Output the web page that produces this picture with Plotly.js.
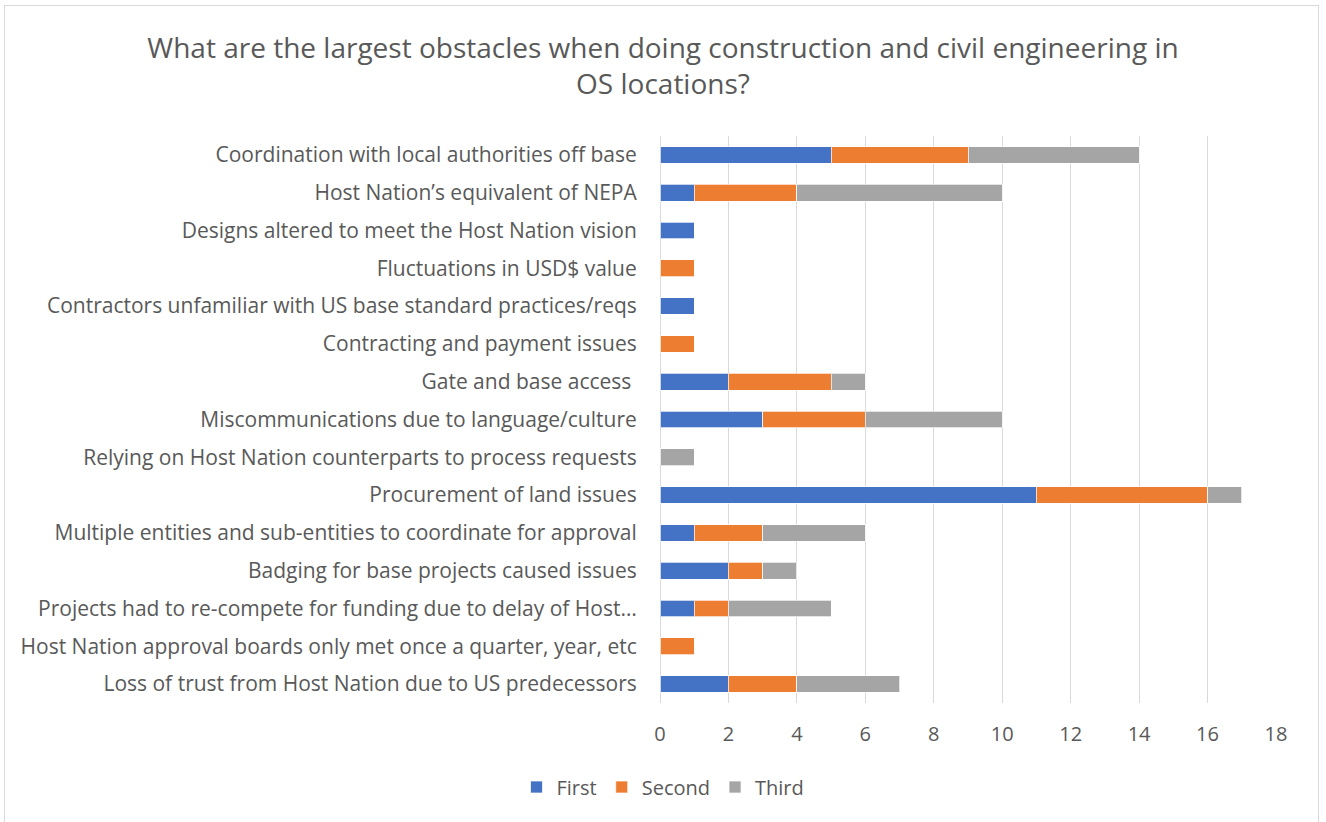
<!DOCTYPE html>
<html>
<head>
<meta charset="utf-8">
<script src="https://cdn.plot.ly/plotly-3.0.1.min.js"></script>
<style>
html,body{margin:0;padding:0;background:#fff;}
#wrap{position:relative;width:1326px;height:822px;}
#chart{width:1326px;height:822px;}
#frame{position:absolute;left:4px;top:5px;width:1313px;height:830px;border:1px solid #D9D9D9;pointer-events:none;}
</style>
</head>
<body>
<div id="wrap"><div id="chart"></div><div id="frame"></div></div>
<script>
const categories = [
  "Coordination with local authorities off base",
  "Host Nation\u2019s equivalent of NEPA",
  "Designs altered to meet the Host Nation vision",
  "Fluctuations in USD$ value",
  "Contractors unfamiliar with US base standard practices/reqs",
  "Contracting and payment issues",
  "Gate and base access ",
  "Miscommunications due to language/culture",
  "Relying on Host Nation counterparts to process requests",
  "Procurement of land issues",
  "Multiple entities and sub-entities to coordinate for approval",
  "Badging for base projects caused issues",
  "Projects had to re-compete for funding due to delay of Host\u2026",
  "Host Nation approval boards only met once a quarter, year, etc",
  "Loss of trust from Host Nation due to US predecessors"
];
const first  = [5, 1, 1, 0, 1, 0, 2, 3, 0, 11, 1, 2, 1, 0, 2];
const second = [4, 3, 0, 1, 0, 1, 3, 3, 0, 5, 2, 1, 1, 1, 2];
const third  = [5, 6, 0, 0, 0, 0, 1, 4, 1, 1, 3, 1, 3, 0, 3];
const xTicks = [0, 2, 4, 6, 8, 10, 12, 14, 16, 18];
const titleLine1 = "What are the largest obstacles when doing construction and civil engineering in";
const titleLine2 = "OS locations?";

const FONT = "Open Sans, sans-serif";
const TXT = "#595959";
const lineStyle = {color: "rgba(255,255,255,0.7)", width: 1};

const traces = [
  {name: "First", y: categories, x: first, type: "bar", orientation: "h", marker: {color: "#4472C4", line: lineStyle}},
  {name: "Second", y: categories, x: second, type: "bar", orientation: "h", marker: {color: "#ED7D31", line: lineStyle}},
  {name: "Third", y: categories, x: third, type: "bar", orientation: "h", marker: {color: "#A5A5A5", line: lineStyle}}
];

const layout = {
  width: 1326, height: 822,
  barmode: "stack",
  bargap: 0.56,
  paper_bgcolor: "#fff", plot_bgcolor: "#fff",
  font: {family: FONT, color: TXT, size: 20},
  margin: {l: 660, r: 50, t: 136, b: 119, pad: 0},
  title: {
    text: titleLine1 + "<br>" + titleLine2,
    font: {family: FONT, size: 28, color: TXT},
    x: 0.5, xref: "container", xanchor: "center",
    y: 1 - 58/822, yref: "container", yanchor: "top"
  },
  xaxis: {
    range: [0, 18], tickvals: xTicks, ticktext: xTicks.map(String),
    showgrid: true, gridcolor: "#D9D9D9", gridwidth: 1.3,
    zeroline: true, zerolinecolor: "#D9D9D9", zerolinewidth: 1.3,
    showline: false, ticks: "outside", ticklen: 13, tickcolor: "rgba(0,0,0,0)",
    tickfont: {family: FONT, size: 20, color: TXT}, fixedrange: true
  },
  yaxis: {
    categoryorder: "array", categoryarray: categories,
    autorange: "reversed", showgrid: false, zeroline: false, showline: false,
    ticks: "outside", ticklen: 18, tickcolor: "rgba(0,0,0,0)",
    tickfont: {family: FONT, size: 21, color: TXT}, fixedrange: true
  },
  legend: {
    orientation: "h", xref: "container", yref: "container",
    x: 0.5, xanchor: "center", y: 1 - 787/822, yanchor: "middle",
    font: {family: FONT, size: 20, color: TXT}, traceorder: "normal",
    itemwidth: 30
  },
  showlegend: true
};

Plotly.newPlot("chart", traces, layout, {displayModeBar: false, responsive: false});
</script>
</body>
</html>
